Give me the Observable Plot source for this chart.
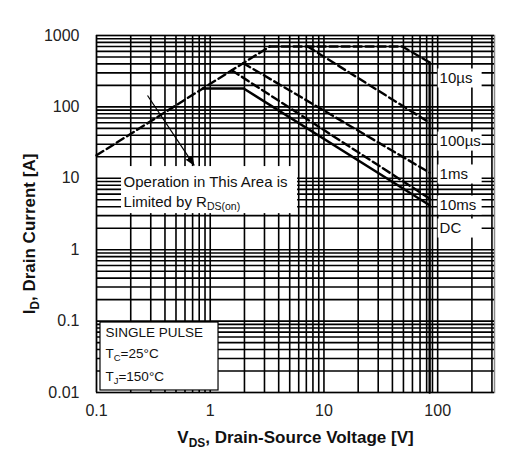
<!DOCTYPE html>
<html><head><meta charset="utf-8">
<script src="https://cdn.jsdelivr.net/npm/d3@7"></script>
<script src="https://cdn.jsdelivr.net/npm/@observablehq/plot@0.6"></script>
<style>body{margin:0;background:#fff;}</style>
</head><body><div id="chart"></div>
<script>
// ---- data ----
const xTicks = [0.1, 1, 10, 100];
const yTicks = [0.01, 0.1, 1, 10, 100, 1000];
const mantissas = [1, 2, 3, 4, 5, 6, 7, 8, 9];
const xDecades = [0.1, 1, 10, 100];
const yDecades = [0.01, 0.1, 1, 10, 100];

// SOA curves (VDS [V], ID [A])
const rdsV = [0.1, 3.33];        const rdsI = [21, 700];
const us10V = [3.33, 49, 85];    const us10I = [700, 700, 420];
const us100V = [7.2, 85];        const us100I = [700, 60];
const ms1V = [1.95, 85];         const ms1I = [410, 12];
const ms10V = [1.55, 85];        const ms10I = [325, 5.2];
const dcV = [0.86, 1.97, 85];    const dcI = [181, 181, 4.2];
const bvV = [85, 85];            const bvI = [420, 0.01];

const curveLabels = ["10µs", "100µs", "1ms", "10ms", "DC"];
const noteLines = ["Operation in This Area is", "Limited by R_{DS(on)}"];
const condLines = ["SINGLE PULSE", "T_{C}=25°C", "T_{J}=150°C"];

// ---- derived tables ----
const vGrid = xDecades.flatMap(d => mantissas.map(m => +(m * d).toPrecision(3))).filter(v => v <= 316);
const iGrid = yDecades.flatMap(d => mantissas.map(m => +(m * d).toPrecision(3))).concat([1000]);
const toPts = (vs, is) => vs.map((v, k) => ({v, i: is[k]}));
const dashedCurves = [toPts(rdsV, rdsI), toPts(us10V, us10I), toPts(us100V, us100I), toPts(ms1V, ms1I), toPts(ms10V, ms10I)];
const solidCurves = [toPts(dcV, dcI), toPts(bvV, bvI)];

// ---- annotation layout (data coordinates) ----
const labelX = 104;
const labelY = [250, 32.7, 11.3, 4.16, 1.98];
const labelRows = curveLabels.map((t, k) => ({t, y: labelY[k]}));
const noteRows = noteLines.map((t, k) => ({t, y: [8.7, 4.7][k]}));
const condRows = condLines.map((t, k) => ({t, y: [0.069, 0.0352, 0.0168][k]}));

const font = "'Liberation Sans', Arial, sans-serif";
const dash = {stroke: "#000", strokeWidth: 2.4, strokeDasharray: "8,4", fill: "none"};
const solid = {stroke: "#000", strokeWidth: 2.4, fill: "none"};

const chart = Plot.plot({
  width: 522, height: 462,
  marginLeft: 96, marginRight: 28, marginTop: 35, marginBottom: 70,
  x: {type: "log", domain: [0.1, 316]},
  y: {type: "log", domain: [0.01, 1000]},
  style: {fontFamily: font, fontSize: "16px", color: "#222", background: "#fff", overflow: "visible"},
  marks: [
    Plot.frame({stroke: "#8a8a8a", strokeWidth: 1.5}),
    Plot.ruleX(vGrid, {stroke: "#000", strokeWidth: 1.6}),
    Plot.ruleY(iGrid, {stroke: "#000", strokeWidth: 1.6}),
    // white boxes
    Plot.rect(labelRows, {x1: 101, x2: 246, y1: d => d.y / 1.36, y2: d => d.y * 1.36, fill: "#fff"}),
    Plot.rect([0], {x1: 0.166, x2: 5.86, y1: 3.2, y2: 14.6, fill: "#fff"}),
    Plot.rect([0], {x1: 0.1084, x2: 1.183, y1: 0.01067, y2: 0.0955, fill: "#fff", stroke: "#000", strokeWidth: 1.2}),
    // curves
    ...dashedCurves.map(c => Plot.line(c, {x: "v", y: "i", ...dash})),
    ...solidCurves.map(c => Plot.line(c, {x: "v", y: "i", ...solid})),
    Plot.link([0], {x1: 0.281, y1: 144.5, x2: 0.72, y2: 15.3, stroke: "#000", strokeWidth: 1.2}),
    // texts
    Plot.text(labelRows, {x: labelX, y: "y", text: "t", textAnchor: "start", fontSize: 15, fill: "#111"}),
    Plot.text(noteRows, {x: 0.173, y: "y", text: "t", textAnchor: "start", fontSize: 15, fill: "#111"}),
    Plot.text(condRows, {x: 0.12, y: "y", text: "t", textAnchor: "start", fontSize: 13.5, fill: "#111"}),
    // axes
    Plot.axisX(xTicks, {tickSize: 0, tickPadding: 12, fontSize: 16, tickFormat: d => String(d), label: null, fill: "#222"}),
    Plot.axisY(yTicks, {tickSize: 0, tickPadding: 17, fontSize: 16, tickFormat: d => String(d), label: null, fill: "#222"}),
    Plot.text(["V_{DS}, Drain-Source Voltage [V]"], {frameAnchor: "bottom", lineAnchor: "middle", textAnchor: "middle", dy: 45, fontSize: 17, fontWeight: "bold", fill: "#111"}),
    Plot.text(["I_{D}, Drain Current [A]"], {frameAnchor: "left", textAnchor: "middle", lineAnchor: "middle", rotate: -90, dx: -67, dy: 20, fontSize: 17, fontWeight: "bold", fill: "#111"})
  ]
});

const NS = "http://www.w3.org/2000/svg";
// filled arrowhead on the annotation link
const defs = document.createElementNS(NS, "defs");
const marker = document.createElementNS(NS, "marker");
marker.setAttribute("id", "filled-arrow");
marker.setAttribute("viewBox", "0 -5 10 10");
marker.setAttribute("markerUnits", "userSpaceOnUse");
marker.setAttribute("markerWidth", "10");
marker.setAttribute("markerHeight", "10");
marker.setAttribute("refX", "9");
marker.setAttribute("refY", "0");
marker.setAttribute("orient", "auto");
const head = document.createElementNS(NS, "path");
head.setAttribute("d", "M0,-4L10,0L0,4Z");
head.setAttribute("fill", "#000");
marker.appendChild(head);
defs.appendChild(marker);
chart.insertBefore(defs, chart.firstChild);
chart.querySelectorAll('g[aria-label="link"] path').forEach(p => p.setAttribute("marker-end", "url(#filled-arrow)"));

// subscripts
chart.querySelectorAll("text").forEach(t => {
  const s = t.textContent;
  if (!s.includes("_{")) return;
  while (t.firstChild) t.removeChild(t.firstChild);
  let shifted = false;
  s.split(/(_\{[^}]*\})/).forEach(p => {
    if (!p) return;
    const ts = document.createElementNS(NS, "tspan");
    if (p.startsWith("_{")) {
      ts.textContent = p.slice(2, -1);
      ts.setAttribute("font-size", "70%");
      ts.setAttribute("dy", "0.3em");
      shifted = true;
    } else {
      ts.textContent = p;
      if (shifted) { ts.setAttribute("dy", "-0.21em"); shifted = false; }
    }
    t.appendChild(ts);
  });
});
document.getElementById("chart").appendChild(chart);
</script>
</body></html>
